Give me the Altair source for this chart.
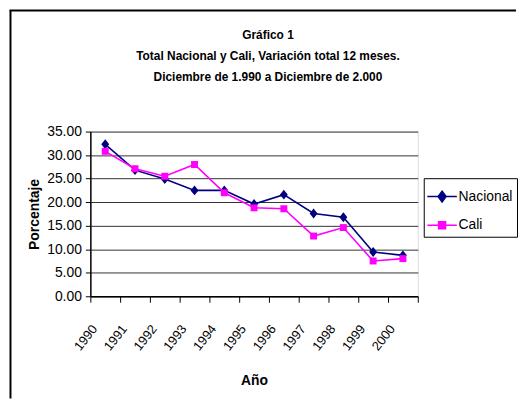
import altair as alt
import pandas as pd

years = ["1990", "1991", "1992", "1993", "1994", "1995", "1996", "1997", "1998", "1999", "2000"]
nacional = [32.3, 26.8, 24.9, 22.5, 22.5, 19.6, 21.6, 17.6, 16.8, 9.4, 8.7]
cali = [30.8, 27.1, 25.5, 28.0, 22.0, 18.8, 18.6, 12.8, 14.6, 7.5, 8.0]
series = ["Nacional", "Cali"]
series_colors = ["#000080", "#FF00FF"]
y_ticks = [0, 5, 10, 15, 20, 25, 30, 35]
title_lines = [
    "Gráfico 1",
    "Total Nacional y Cali, Variación total 12 meses.",
    "Diciembre de 1.990 a Diciembre de 2.000",
]

rows = []
for i, yr in enumerate(years):
    rows.append({"Año": yr, "Serie": "Nacional", "Valor": nacional[i]})
    rows.append({"Año": yr, "Serie": "Cali", "Valor": cali[i]})
df = pd.DataFrame(rows)

FONT = "Liberation Sans"

DIAMOND = "M0,-1L0.8,0L0,1L-0.8,0Z"
point_shapes = {"Nacional": (DIAMOND, 100), "Cali": ("square", 49)}
legend_shapes = [
    "M-1.1,0L1.1,0M0,-0.4L0.3,0L0,0.4L-0.3,0Z",
    "M-1.1,0L1.1,0M-0.26,-0.26L0.26,-0.26L0.26,0.26L-0.26,0.26Z",
]

x_enc = alt.X(
    "Año:N",
    sort=years,
    scale=alt.Scale(type="band", paddingInner=0, paddingOuter=0),
    axis=alt.Axis(
        title="Año", tickBand="extent", labelAngle=-52, labelAlign="right",
        labelBaseline="middle", labelPadding=24, labelOffset=-11,
        labelFontSize=13, labelFont=FONT, labelColor="black",
        domainColor="black", domainWidth=1.5, tickColor="black", tickSize=6, grid=False,
        titleFont=FONT, titleFontSize=14, titleFontWeight="bold",
        titleColor="black", titlePadding=21,
    ),
)
y_enc = alt.Y(
    "Valor:Q",
    scale=alt.Scale(domain=[0, 35], nice=False, zero=True),
    axis=alt.Axis(
        title="Porcentaje", values=y_ticks, format=".2f",
        labelFontSize=14, labelFont=FONT, labelColor="black", labelPadding=4,
        domainColor="black", domainWidth=1.5, tickColor="black", tickSize=5,
        grid=True, gridColor="#333333", gridWidth=1,
        titleFont=FONT, titleFontSize=14, titleFontWeight="bold",
        titleColor="black", titlePadding=5,
    ),
)

base = alt.Chart(df).encode(x=x_enc, y=y_enc)

layers = []
for s, c in zip(series, series_colors):
    shp, sz = point_shapes[s]
    f = base.transform_filter(alt.datum.Serie == s)
    layers.append(f.mark_line(color=c, strokeWidth=1.6))
    layers.append(f.mark_point(shape=shp, size=sz, filled=True, color=c, opacity=1))

legend_def = alt.Legend(
    title=None, orient="none", legendX=336, legendY=47,
    strokeColor="black", fillColor="white", padding=4, cornerRadius=0,
    labelFontSize=14, labelFont=FONT, labelColor="black", labelOffset=2,
    symbolSize=729, symbolStrokeWidth=1.5, rowPadding=6,
)
legend_layer = alt.Chart(df).transform_filter("false").mark_point(
    filled=True, opacity=1, size=729, strokeWidth=1.5
).encode(
    fill=alt.Fill("Serie:N", scale=alt.Scale(domain=series, range=series_colors), legend=legend_def),
    stroke=alt.Stroke("Serie:N", scale=alt.Scale(domain=series, range=series_colors), legend=legend_def),
    shape=alt.Shape("Serie:N", scale=alt.Scale(domain=series, range=legend_shapes), legend=legend_def),
)

bdf = pd.DataFrame({"k": [0]})
left_border = alt.Chart(bdf).mark_rule(color="black", strokeWidth=2).encode(
    x=alt.value(-80.5), y=alt.value(-122), y2=alt.value(269)
)
top_border = alt.Chart(bdf).mark_rule(color="black", strokeWidth=2).encode(
    x=alt.value(-81.5), x2=alt.value(429), y=alt.value(-122)
)

chart = alt.layer(*layers, legend_layer, left_border, top_border).properties(
    width=330,
    height=166,
    padding=0,
    title=alt.TitleParams(
        title_lines, font=FONT, fontSize=12, fontWeight="bold", color="black",
        lineHeight=21.5, anchor="middle", frame="group", dx=14, offset=-75.5, baseline="top",
    ),
).configure_view(stroke="#999999", strokeWidth=1.5).configure(background="white")

chart.save("out.html", embed_options={"renderer": "svg", "actions": False})
